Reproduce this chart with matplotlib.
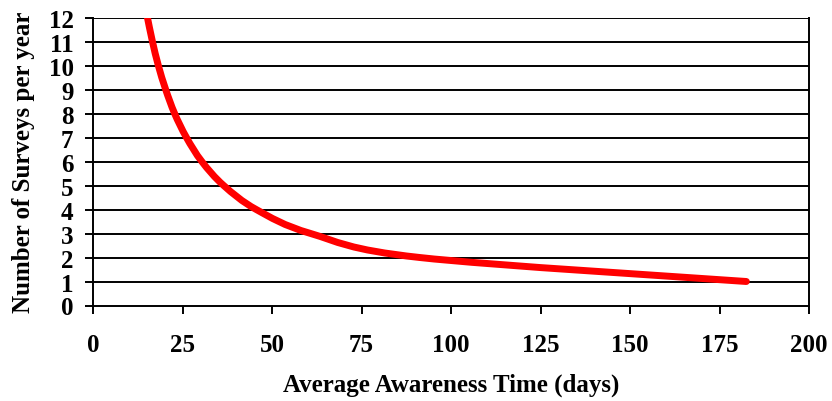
import matplotlib.pyplot as plt
from matplotlib.path import Path
from matplotlib.patches import PathPatch

plt.rcParams['font.family'] = ['Liberation Serif', 'DejaVu Serif']
plt.rcParams['font.weight'] = 'bold'

# surveys per year and the average awareness time they give
surveys = [12, 11, 10, 9, 8, 7, 6, 5, 4, 3, 2, 1]
awareness_days = [15.2, 16.6, 18.25, 20.3, 22.8, 26.1, 30.4, 36.5, 45.6, 60.8, 91.25, 182.5]
xticks = [0, 25, 50, 75, 100, 125, 150, 175, 200]
yticks = list(range(0, 13))


def smooth_path(xs, ys):
    # excel-like smoothed line (catmull-rom as cubic bezier)
    pts = list(zip(xs, ys))
    n = len(pts)
    verts = [pts[0]]
    codes = [Path.MOVETO]
    for i in range(n - 1):
        p0 = pts[max(i - 1, 0)]
        p1 = pts[i]
        p2 = pts[i + 1]
        p3 = pts[min(i + 2, n - 1)]
        c1 = (p1[0] + (p2[0] - p0[0]) / 6, p1[1] + (p2[1] - p0[1]) / 6)
        c2 = (p2[0] - (p3[0] - p1[0]) / 6, p2[1] - (p3[1] - p1[1]) / 6)
        verts += [c1, c2, p2]
        codes += [Path.CURVE4] * 3
    return Path(verts, codes)


fig = plt.figure(figsize=(8.32, 4.02), dpi=100)
ax = fig.add_axes([93/832, 1 - 306.5/402, (809 - 93)/832, (306.5 - 18.5)/402])

for y in yticks[1:]:
    ax.axhline(y, color='black', lw=1.4, zorder=1)

ax.add_patch(PathPatch(smooth_path(awareness_days, surveys), fill=False,
                       edgecolor='#ff0000', lw=5, capstyle='round',
                       joinstyle='round', zorder=3, clip_on=True))

ax.set_xlim(0, 200)
ax.set_ylim(0, 12)
ax.set_xticks(xticks)
ax.set_yticks(yticks)
ax.spines['top'].set_visible(False)
for s in ['left', 'bottom', 'right']:
    ax.spines[s].set_linewidth(1.4)
ax.tick_params(axis='x', direction='out', length=6, width=1.4, pad=14, labelsize=18)
ax.tick_params(axis='y', direction='out', length=6, width=1.4, pad=8, labelsize=18)

ax.set_xlabel('Average Awareness Time (days)', fontsize=18, fontweight='bold', labelpad=12)
ax.set_ylabel('Number of Surveys per year', fontsize=18, fontweight='bold', labelpad=10)

fig.savefig('out.png', dpi=100)
